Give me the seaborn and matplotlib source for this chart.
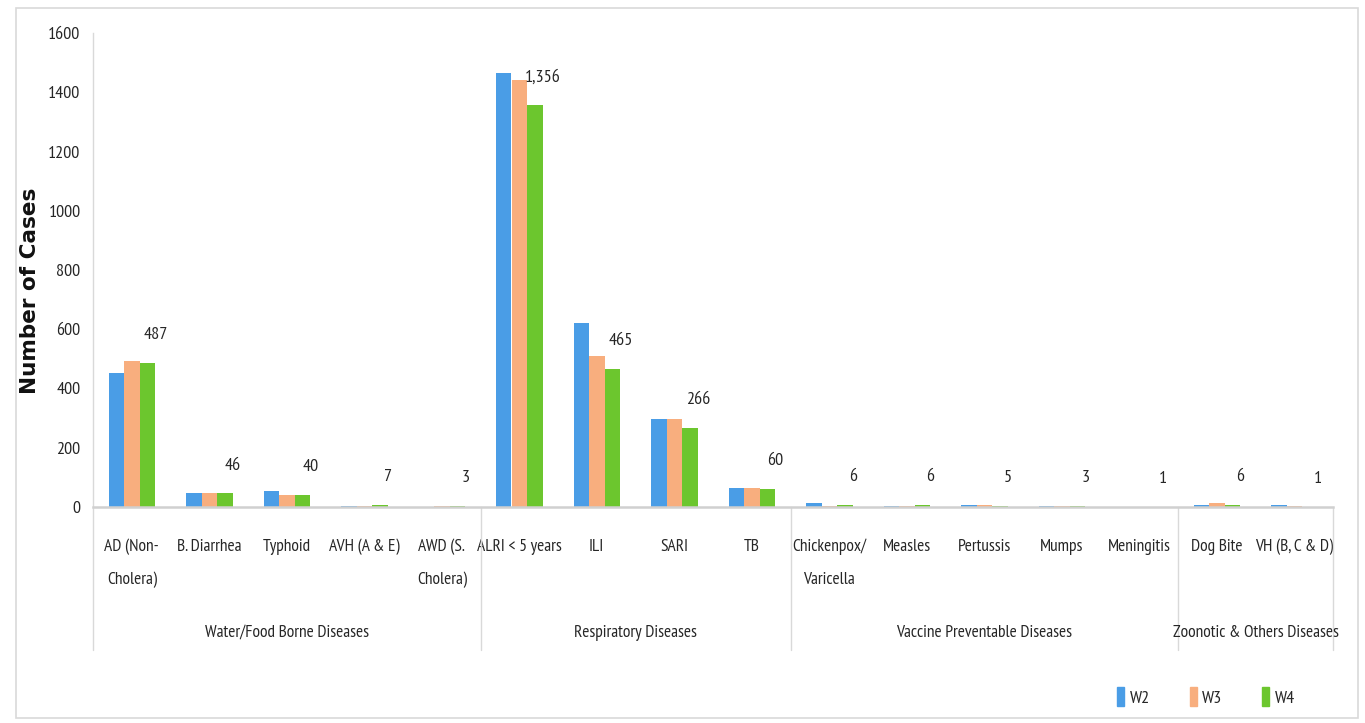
import matplotlib
matplotlib.use("Agg")
import matplotlib.pyplot as plt
import matplotlib.transforms as mtransforms
from matplotlib.patches import Rectangle
from matplotlib import font_manager
import seaborn as sns
import pandas as pd

# Weekly case counts by disease
categories = [
    "AD (Non-\nCholera)", "B. Diarrhea", "Typhoid", "AVH (A & E)", "AWD (S.\nCholera)",
    "ALRI < 5 years", "ILI", "SARI", "TB",
    "Chickenpox/\nVaricella", "Measles", "Pertussis", "Mumps", "Meningitis",
    "Dog Bite", "VH (B, C & D)",
]
w2 = [453, 47, 54, 3, 1, 1466, 621, 297, 64, 13, 4, 8, 2, 1, 8, 8]
w3 = [493, 47, 40, 4, 2, 1442, 510, 297, 64, 4, 5, 8, 2, 1, 12, 2]
w4 = [487, 46, 40, 7, 3, 1356, 465, 266, 60, 6, 6, 5, 3, 1, 6, 1]
weeks = ["W2", "W3", "W4"]
groups = [
    ("Water/Food Borne Diseases", 0, 5),
    ("Respiratory Diseases", 5, 9),
    ("Vaccine Preventable Diseases", 9, 14),
    ("Zoonotic & Others Diseases", 14, 16),
]
colors = ["#4A9DE6", "#F8AE7E", "#6CC62E"]

df = pd.DataFrame({
    "Disease": categories * 3,
    "Week": ["W2"] * len(categories) + ["W3"] * len(categories) + ["W4"] * len(categories),
    "Cases": w2 + w3 + w4,
})

sns.set_theme(style="white")

# narrow face for the labels
installed = {f.name for f in font_manager.fontManager.ttflist}
narrow = next((n for n in ["PT Sans Narrow", "Archivo Narrow", "Roboto Condensed",
                           "Open Sans Condensed", "Fira Sans Condensed",
                           "IBM Plex Sans Condensed"] if n in installed), "DejaVu Sans")
plt.rcParams["font.family"] = [narrow, "DejaVu Sans"]
FS = 12.5
TXT = "#262626"

W, H = 1365, 723
fig = plt.figure(figsize=(W / 100, H / 100), dpi=100)
ax = fig.add_axes([93 / W, 1 - 507 / H, (1333 - 93) / W, (507 - 33) / H])

sns.barplot(data=df, x="Disease", y="Cases", hue="Week", order=categories,
            hue_order=weeks, palette=colors, saturation=1, width=0.6, gap=0, ax=ax,
            edgecolor="none", legend=False)

ax.set_xlim(-0.5, len(categories) - 0.5)
ax.set_ylim(0, 1600)
ax.set_yticks(range(0, 1601, 200))
ax.tick_params(axis="y", labelsize=13, colors=TXT, length=0, pad=9)
ax.tick_params(axis="x", labelsize=FS, colors=TXT, length=0, pad=23)
ax.set_xticks(range(len(categories)))
ax.set_xticklabels(categories, va="top", linespacing=2.35)
ax.set_xlabel("")
ax.set_ylabel("")
fig.text(30 / W, 1 - 291 / H, "Number of Cases", rotation=90, ha="center", va="center",
         fontsize=15.5, fontweight="bold", family="DejaVu Sans", color="#111111")

for side in ["top", "right"]:
    ax.spines[side].set_visible(False)
ax.spines["left"].set_color("#D9D9D9")
ax.spines["bottom"].set_color("#D0D0D0")
ax.spines["bottom"].set_linewidth(1.8)
ax.spines["left"].set_linewidth(1.0)

# W4 value labels
for patch, val in zip(ax.containers[2].patches, w4):
    xc = patch.get_x() + patch.get_width() / 2
    ax.annotate(f"{val:,}", xy=(xc, val), xytext=(6, 20), textcoords="offset points",
                ha="center", va="center", fontsize=13, color=TXT)

# group separators and group labels below the axis
trans = mtransforms.blended_transform_factory(ax.transData, ax.transAxes)
y_low = (507 - 650) / (507 - 33)
bounds = sorted({g[1] for g in groups} | {g[2] for g in groups})
for b in bounds:
    ax.plot([b - 0.5, b - 0.5], [0, y_low], transform=trans, color="#D9D9D9",
            lw=1.0, clip_on=False)
y_grp = (507 - 633) / (507 - 33)
for name, s, e in groups:
    ax.text((s + e - 1) / 2, y_grp, name, transform=trans, ha="center", va="center",
            fontsize=FS, color=TXT)

# legend
handles = [Rectangle((0, 0), 1, 1, color=c) for c in colors]
fig.legend(handles, weeks, loc="center", bbox_to_anchor=(1206 / W, 1 - 697 / H),
           ncol=3, frameon=False, fontsize=13, handlelength=0.4, handleheight=1.2,
           handletextpad=0.3, columnspacing=2.2)

# chart frame
fig.patches.append(Rectangle((16 / W, 1 - 718 / H), (1358 - 16) / W, (718 - 8) / H,
                             transform=fig.transFigure, fill=False,
                             edgecolor="#D9D9D9", lw=1.2))

fig.savefig("out.png", dpi=100, facecolor="white")
